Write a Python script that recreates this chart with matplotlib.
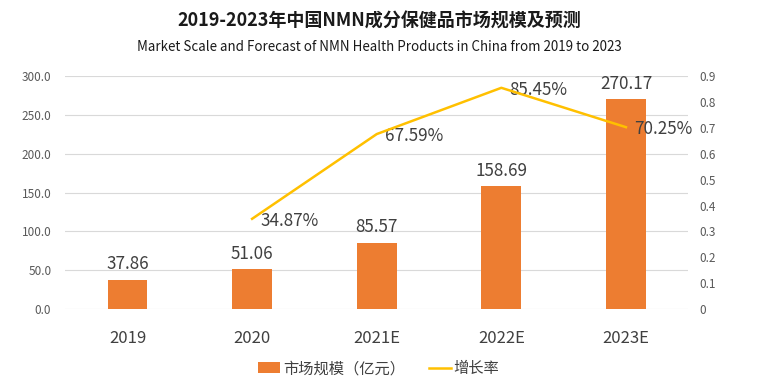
import matplotlib.pyplot as plt
import numpy as np

plt.rcParams['font.family'] = ['Noto Sans CJK SC', 'DejaVu Sans']

years = ['2019', '2020', '2021E', '2022E', '2023E']
market = [37.86, 51.06, 85.57, 158.69, 270.17]
growth_years = ['2020', '2021E', '2022E', '2023E']
growth = [0.3487, 0.6759, 0.8545, 0.7025]

bar_color = '#ED7D31'
line_color = '#FFC000'
tick_color = '#595959'

fig = plt.figure(figsize=(7.58, 3.84), dpi=100)
ax = fig.add_axes([0.086, 0.195, 0.822, 0.607])
ax2 = ax.twinx()

x = np.arange(len(years))
bars = ax.bar(x, market, width=0.32, color=bar_color, label='市场规模（亿元）', zorder=3)
for xi, v in zip(x, market):
    ax.text(xi, v + 8, f'{v:.2f}', ha='center', va='bottom', fontsize=12.3, color='#404040')

gx = [years.index(g) for g in growth_years]
line, = ax2.plot(gx, growth, color=line_color, lw=1.8, label='增长率', zorder=4)
for xi, g in zip(gx, growth):
    ax2.text(xi + 0.065, g - 0.008, f'{g*100:.2f}%', ha='left', va='center', fontsize=12.3, color='#404040')

ax.set_xlim(-0.5, 4.5)
ax.set_ylim(0, 300)
ax.set_yticks(np.arange(0, 301, 50))
ax.set_yticklabels([f'{v:.1f}' for v in np.arange(0, 301, 50)])
ax2.set_ylim(0, 0.9)
ax2.set_yticks(np.arange(0, 0.91, 0.1))
ax2.set_yticklabels(['0'] + [f'{v:.1f}' for v in np.arange(0.1, 0.91, 0.1)])

ax.set_xticks(x)
ax.set_xticklabels(years, fontsize=12, color='#404040')
ax.grid(axis='y', color='#D9D9D9', lw=0.8, zorder=0)
for a in (ax, ax2):
    for s in a.spines.values():
        s.set_visible(False)
    a.tick_params(length=0)
ax.tick_params(axis='y', labelsize=8.5, colors=tick_color, pad=10)
ax.tick_params(axis='x', pad=15)
ax2.tick_params(axis='y', labelsize=8.5, colors=tick_color, pad=8)

fig.text(0.5, 0.945, '2019-2023年中国NMN成分保健品市场规模及预测', ha='center', va='center',
         fontsize=13, fontweight='bold', color='#1a1a1a')
fig.text(0.5, 0.877, 'Market Scale and Forecast of NMN Health Products in China from 2019 to 2023',
         ha='center', va='center', fontsize=9.6, color='#1a1a1a')

fig.legend(handles=[bars, line], loc='center', bbox_to_anchor=(0.5, 0.04), ncol=2,
           frameon=False, fontsize=11, handlelength=1.4, handletextpad=0.2,
           columnspacing=1.6, labelcolor='#404040')

fig.savefig('out.png', dpi=100)
